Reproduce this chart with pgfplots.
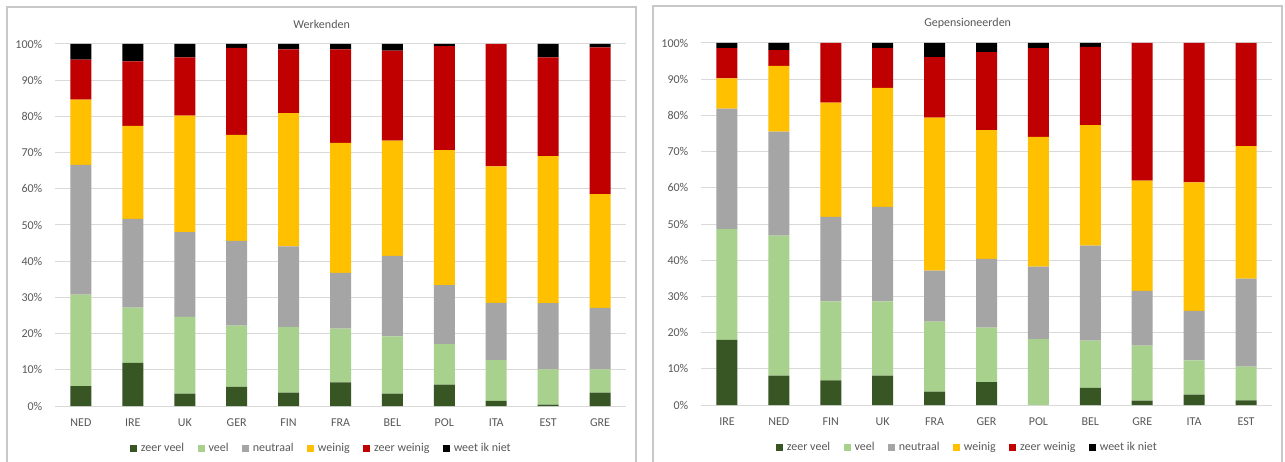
\documentclass[border=0pt]{standalone}
\usepackage{fontspec}
\setmainfont{Carlito}
\usepackage{pgfplots}
\pgfplotsset{compat=1.18}
\usepackage{pgfplotstable}

\definecolor{zv}{HTML}{375623}
\definecolor{veel}{HTML}{A9D18E}
\definecolor{neutr}{HTML}{A5A5A5}
\definecolor{wein}{HTML}{FFC000}
\definecolor{zw}{HTML}{C00000}
\definecolor{weet}{HTML}{000000}
\definecolor{txt}{HTML}{595959}
\definecolor{gridc}{HTML}{D9D9D9}
\definecolor{framec}{HTML}{C8C8C8}

% Werkenden: NED IRE UK GER FIN FRA BEL POL ITA EST GRE
\pgfplotstableread{
x  zv   veel neutr wein zw   weet
0  5.5  25.3 35.8  18.0 11.1 4.3
1  11.9 15.3 24.5  25.7 17.8 4.8
2  3.4  21.2 23.4  32.2 16.1 3.7
3  5.3  16.9 23.4  29.3 24.0 1.1
4  3.7  18.1 22.3  36.8 17.6 1.5
5  6.5  14.9 15.4  35.9 25.8 1.5
6  3.4  15.8 22.3  31.8 24.9 1.8
7  5.9  11.2 16.3  37.3 28.7 0.6
8  1.4  11.3 15.8  37.7 33.8 0.0
9  0.4  9.7  18.3  40.6 27.3 3.7
10 3.7  6.4  17.0  31.4 40.6 0.9
}\werk

% Gepensioneerden: IRE NED FIN UK FRA GER POL BEL GRE ITA EST
\pgfplotstableread{
x  zv   veel neutr wein zw   weet
0  18.0 30.6 33.3  8.3  8.4  1.4
1  8.1  38.7 28.7  18.2 4.3  2.0
2  6.8  21.8 23.4  31.5 16.5 0.0
3  8.1  20.5 26.1  32.9 11.0 1.4
4  3.7  19.3 14.1  42.3 16.7 3.9
5  6.3  15.1 19.0  35.5 21.6 2.5
6  0.0  18.2 20.0  35.9 24.5 1.4
7  4.7  13.1 26.2  33.3 21.6 1.1
8  1.2  15.2 15.1  30.5 38.0 0.0
9  2.9  9.4  13.7  35.5 38.5 0.0
10 1.3  9.3  24.3  36.6 28.5 0.0
}\pens

\pgfplotsset{
  panel/.style={
    ybar stacked,
    bar width=15.75pt,
    scale only axis,
    width=428.25pt, height=271.5pt,
    xmin=-0.5, xmax=10.5,
    ymin=0, ymax=100,
    xtick={0,...,10},
    ytick={0,10,...,100},
    major tick length=0pt,
    axis line style={draw=none},
    ymajorgrids,
    grid style={color=gridc, line width=0.75pt},
    tick label style={font=\fontsize{9}{11}\selectfont, text=txt},
    /pgf/number format/assume math mode=true,
    yticklabel={\pgfmathprintnumber{\tick}\%},
    yticklabel style={xshift=-6pt},
    xticklabel style={yshift=-6pt},
    title style={font=\fontsize{9}{11}\selectfont, text=txt, at={(0.467,1)}, anchor=center, yshift=9pt},
    every axis plot/.append style={draw=none},
    legend columns=6,
    legend image code/.code={\fill[##1] (0pt,-2.6pt) rectangle (5.25pt,2.6pt);},
    legend style={at={(0.467,-0.118)}, anchor=center, draw=none, fill=none,
      font=\fontsize{9}{11}\selectfont, text=txt,
      /tikz/every odd column/.append style={column sep=1pt},
      /tikz/every even column/.append style={column sep=8pt}},
  }
}

\begin{document}
\begin{tikzpicture}
\fill[white] (0,0) rectangle (963.75pt,345.75pt);
\useasboundingbox (0,0) rectangle (963.75pt,345.75pt);
\draw[framec, line width=1.1pt] (5.25pt,-2pt) -- (5.25pt,340.5pt) -- (477pt,340.5pt) -- (477pt,-2pt);
\draw[framec, line width=1.1pt] (489.75pt,-2pt) -- (489.75pt,341.25pt) -- (961.5pt,341.25pt) -- (961.5pt,-2pt);

\begin{axis}[panel, at={(41.25pt,41.25pt)}, title={Werkenden},
  xticklabels={NED,IRE,UK,GER,FIN,FRA,BEL,POL,ITA,EST,GRE}]
\addplot[fill=zv] table[x=x,y=zv]{\werk};
\addplot[fill=veel] table[x=x,y=veel]{\werk};
\addplot[fill=neutr] table[x=x,y=neutr]{\werk};
\addplot[fill=wein] table[x=x,y=wein]{\werk};
\addplot[fill=zw] table[x=x,y=zw]{\werk};
\addplot[fill=weet] table[x=x,y=weet]{\werk};
\legend{zeer veel,veel,neutraal,weinig,zeer weinig,weet ik niet}
\end{axis}

\begin{axis}[panel, at={(525.75pt,42pt)}, title={Gepensioneerden},
  xticklabels={IRE,NED,FIN,UK,FRA,GER,POL,BEL,GRE,ITA,EST}]
\addplot[fill=zv] table[x=x,y=zv]{\pens};
\addplot[fill=veel] table[x=x,y=veel]{\pens};
\addplot[fill=neutr] table[x=x,y=neutr]{\pens};
\addplot[fill=wein] table[x=x,y=wein]{\pens};
\addplot[fill=zw] table[x=x,y=zw]{\pens};
\addplot[fill=weet] table[x=x,y=weet]{\pens};
\legend{zeer veel,veel,neutraal,weinig,zeer weinig,weet ik niet}
\end{axis}
\end{tikzpicture}
\end{document}
